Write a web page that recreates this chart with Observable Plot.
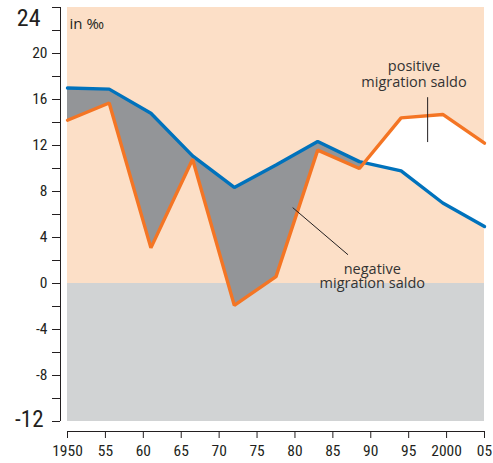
<!DOCTYPE html>
<html><head><meta charset="utf-8">
<script src="https://cdn.jsdelivr.net/npm/d3@7"></script>
<script src="https://cdn.jsdelivr.net/npm/@observablehq/plot@0.6"></script>
<style>body{margin:0;background:#fff}#chart svg{display:block}</style>
</head><body><div id="chart"></div>
<script>
// ---- data ----
const years  = [1950, 1955.5, 1961, 1966.5, 1972, 1977.5, 1983, 1988.5, 1994, 1999.5, 2005];
const blueSeries   = [17.0, 16.9, 14.8, 11.1, 8.35, 10.3, 12.35, 10.6, 9.8, 7.0, 4.95];
const orangeSeries = [14.2, 15.7, 3.1, 10.8, -1.9, 0.6, 11.6, 10.0, 14.4, 14.7, 12.2];
const xTicks = [1950, 1955, 1960, 1965, 1970, 1975, 1980, 1985, 1990, 1995, 2000, 2005];
const xTickLabels = ["1950", "55", "60", "65", "70", "75", "80", "85", "90", "95", "2000", "05"];
const yMinorTicks = [-12, -10, -8, -6, -4, -2, 0, 2, 4, 6, 8, 10, 12, 14, 16, 18, 20, 22, 24];
const yTickLabels = [-8, -4, 0, 4, 8, 12, 16, 20];
const yTop = [24];
const yBottom = [-12];
const unitLabel = ["in ‰"];
const bands = [{name: "positive", from: 0, to: 24}, {name: "negative", from: -12, to: 0}];
const noteLines = [
  {text: "positive", x: 1995.7, y: 18.86},
  {text: "migration saldo", x: 1995.7, y: 17.53},
  {text: "negative", x: 1990.2, y: 1.27},
  {text: "migration saldo", x: 1990.2, y: -0.03}
];
const leaders = [
  {x1: 1997.5, y1: 16.2, x2: 1997.5, y2: 12.3},
  {x1: 1979.7, y1: 6.6, x2: 1987.0, y2: 2.5}
];

const rows = years.map((x, i) => ({x, blue: blueSeries[i], orange: orangeSeries[i]}));

// ---- styles ----
const PEACH = "#FCDFC7", LIGHTGREY = "#D1D3D4", DARKGREY = "#939598";
const BLUE = "#0072BC", ORANGE = "#F47524", INK = "#231F20";
const NARROW = "'Roboto Condensed','Open Sans Condensed','DejaVu Sans Condensed',sans-serif";
const SANS = "'Open Sans','Noto Sans',sans-serif";
const fmt = d => String(d).replace("\u2212", "-");

let fillMarks;
if (typeof Plot.differenceY === "function") {
  fillMarks = [Plot.differenceY(rows, {x: "x", y1: "orange", y2: "blue",
    positiveFill: DARKGREY, negativeFill: "#ffffff", fillOpacity: 1, stroke: "none", curve: "linear"})];
} else {
  const pts = [];
  for (let i = 0; i < rows.length; i++) {
    const a = rows[i]; pts.push(a);
    const b = rows[i + 1];
    if (!b) break;
    const da = a.blue - a.orange, db = b.blue - b.orange;
    if (da * db < 0) {
      const t = da / (da - db);
      const v = a.blue + t * (b.blue - a.blue);
      pts.push({x: a.x + t * (b.x - a.x), blue: v, orange: v});
    }
  }
  fillMarks = [
    Plot.areaY(pts, {x: "x", y1: "orange", y2: d => Math.max(d.orange, d.blue), fill: DARKGREY}),
    Plot.areaY(pts, {x: "x", y1: "blue", y2: d => Math.max(d.orange, d.blue), fill: "#ffffff"})
  ];
}

const chart = Plot.plot({
  width: 493, height: 463,
  marginLeft: 67, marginRight: 9, marginTop: 7, marginBottom: 42,
  style: {fontFamily: SANS, color: INK, background: "#fff"},
  x: {domain: [1950, 2005], axis: null},
  y: {domain: [-12, 24], axis: null},
  marks: [
    Plot.rect(bands, {x1: () => 1950, x2: () => 2005, y1: "from", y2: "to",
      fill: d => d.name === "positive" ? PEACH : LIGHTGREY}),
    ...fillMarks,
    Plot.line(rows, {x: "x", y: "blue", stroke: BLUE, strokeWidth: 3.4, strokeLinejoin: "miter"}),
    Plot.line(rows, {x: "x", y: "orange", stroke: ORANGE, strokeWidth: 3.4, strokeLinejoin: "miter"}),
    // y axis
    Plot.ruleX(xTicks.slice(0, 1), {y1: () => -12, y2: () => 24, dx: -7, stroke: INK, strokeWidth: 1}),
    Plot.axisY(yMinorTicks, {anchor: "left", tickSize: 8, dx: -7, tickFormat: () => "", stroke: INK}),
    Plot.axisY(yTickLabels, {anchor: "left", tickSize: 0, tickPadding: 13, dx: -7, tickFormat: fmt,
      fontFamily: NARROW, fontSize: 15.5, fill: INK}),
    Plot.axisY(yTop, {anchor: "left", tickSize: 0, tickPadding: 20, dx: -7, dy: 11, tickFormat: fmt,
      fontFamily: NARROW, fontSize: 24, fill: INK}),
    Plot.axisY(yBottom, {anchor: "left", tickSize: 0, tickPadding: 17, dx: -7, dy: -2, tickFormat: fmt,
      fontFamily: NARROW, fontSize: 23, fill: INK}),
    // x axis
    Plot.ruleY(yBottom, {x1: () => 1950, x2: () => 2005, dy: 10, stroke: INK}),
    Plot.axisX(xTicks, {anchor: "bottom", tickSize: 7, dy: 10, tickPadding: 6,
      tickFormat: d => xTickLabels[xTicks.indexOf(d)], fontFamily: NARROW, fontSize: 15.5, fill: INK, stroke: INK}),
    // annotations
    Plot.text(unitLabel, {frameAnchor: "top-left", text: d => d, dx: 2, dy: 11, lineAnchor: "top",
      textAnchor: "start", fontSize: 15, letterSpacing: 0.3, fill: INK}),
    Plot.link(leaders, {x1: "x1", y1: "y1", x2: "x2", y2: "y2", stroke: INK, strokeWidth: 1}),
    Plot.text(noteLines, {x: "x", y: "y", text: "text", lineAnchor: "middle",
      fontSize: 14.5, letterSpacing: 0.6, fill: "#333"})
  ]
});
document.getElementById("chart").append(chart);
</script>
</body></html>
